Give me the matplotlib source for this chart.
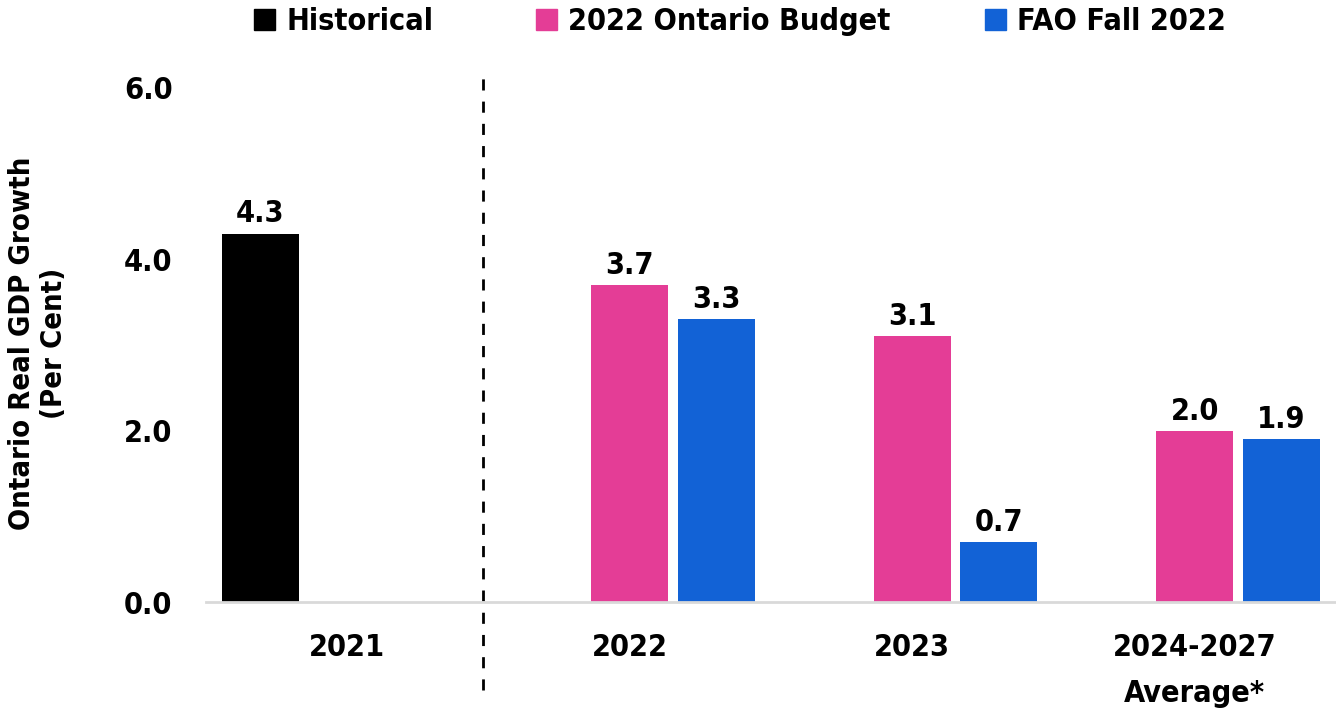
import numpy as np
import matplotlib.pyplot as plt
from matplotlib.patches import Patch

plt.rcParams.update({'font.family': 'DejaVu Sans', 'font.stretch': 'condensed',
                     'font.weight': 'bold', 'font.size': 22})

categories = ['2021', '2022', '2023', '2024-2027\nAverage*']
historical = [4.3, np.nan, np.nan, np.nan]
budget = [np.nan, 3.7, 3.1, 2.0]
fao = [np.nan, 3.3, 0.7, 1.9]
series_names = ['Historical', '2022 Ontario Budget', 'FAO Fall 2022']
colors = ['#000000', '#E43D96', '#1262D6']

fig = plt.figure(figsize=(13.36, 7.21), dpi=100)
ax = fig.add_axes([0.154, 0.165, 0.846, 0.713])

x = np.arange(len(categories))
w = 0.272
step = 0.307
for i, (vals, c) in enumerate(zip([historical, budget, fao], colors)):
    pos = x + (i - 1) * step
    ax.bar(pos, vals, width=w, color=c)
    for p, v in zip(pos, vals):
        if not np.isnan(v):
            ax.text(p, v + 0.06, f'{v:.1f}', ha='center', va='bottom', fontsize=22)

ax.set_xlim(-0.5, 3.5)
ax.set_ylim(0, 6)
ax.set_yticks([0, 2, 4, 6])
ax.set_yticklabels(['0.0', '2.0', '4.0', '6.0'])
ax.set_xticks(x)
ax.set_xticklabels(categories)
ax.tick_params(axis='x', length=0, labelsize=22, pad=22)
ax.tick_params(axis='y', length=0, labelsize=22, pad=24)
for lab in ax.get_xticklabels():
    lab.set_linespacing(1.75)
for s in ['top', 'right', 'left']:
    ax.spines[s].set_visible(False)
ax.spines['bottom'].set_color('#d9d9d9')
ax.spines['bottom'].set_linewidth(2)

# divider between historical and projections
ax.plot([0.48, 0.48], [-1.03, 6.2], color='black', linestyle=(0, (4, 4)), linewidth=2, clip_on=False)

fig.text(38 / 1336, 1 - 343 / 721, 'Ontario Real GDP Growth\n(Per Cent)', rotation=90,
         ha='center', va='center', fontsize=21, linespacing=1.15)

# legend entries placed one by one, as in the original
leg_x = [254, 536, 985]
for name, c, lx in zip(series_names, colors, leg_x):
    fig.legend(handles=[Patch(color=c, label=name)], loc='center left',
               bbox_to_anchor=(lx / 1336, 1 - 22 / 721), frameon=False,
               borderpad=0, borderaxespad=0, handlelength=0.69, handleheight=0.69,
               handletextpad=0.36, prop={'size': 22, 'weight': 'bold', 'stretch': 'condensed'})

fig.savefig('out.png', dpi=100, facecolor='w')
